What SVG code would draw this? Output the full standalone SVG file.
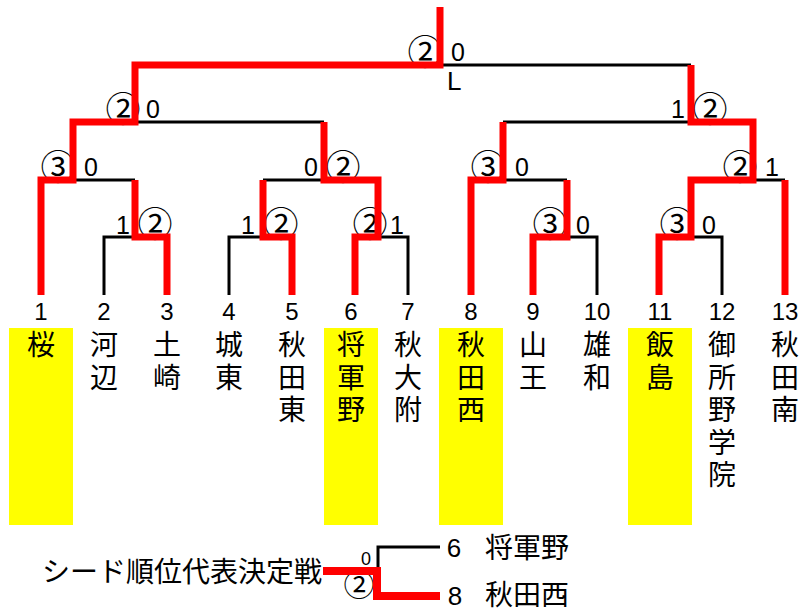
<svg xmlns="http://www.w3.org/2000/svg" width="801" height="612" viewBox="0 0 801 612">
<style>
.num{font-family:"Liberation Sans",Arial,sans-serif;font-size:24px;text-anchor:middle;fill:#000}
.jp{font-family:"Noto Sans CJK JP",sans-serif;font-size:28px;text-anchor:middle;fill:#000}
.sc{font-family:"Liberation Sans",Arial,sans-serif;font-size:25px;text-anchor:middle;fill:#000}
.ci{font-family:"Noto Sans CJK JP",sans-serif;font-size:35px;text-anchor:middle;fill:#000}
.hl{fill:#ffff00}
.w{fill:none;stroke:#ff0000;stroke-width:7;stroke-linejoin:miter}
.l{fill:none;stroke:#000;stroke-width:3}
</style>
<rect width="801" height="612" fill="#fff"/>
<g id="team1"><rect class="hl" x="9" y="328" width="64" height="197"/><text class="num" x="41" y="320">1</text><text class="jp" x="41" y="355">桜</text></g>
<g id="team2"><text class="num" x="104" y="320">2</text><text class="jp" x="104" y="355">河</text><text class="jp" x="104" y="387.5">辺</text></g>
<g id="team3"><text class="num" x="167" y="320">3</text><text class="jp" x="167" y="355">土</text><text class="jp" x="167" y="387.5">崎</text></g>
<g id="team4"><text class="num" x="229" y="320">4</text><text class="jp" x="229" y="355">城</text><text class="jp" x="229" y="387.5">東</text></g>
<g id="team5"><text class="num" x="292" y="320">5</text><text class="jp" x="292" y="355">秋</text><text class="jp" x="292" y="387.5">田</text><text class="jp" x="292" y="420">東</text></g>
<g id="team6"><rect class="hl" x="324" y="328" width="54" height="197"/><text class="num" x="351" y="320">6</text><text class="jp" x="351" y="355">将</text><text class="jp" x="351" y="387.5">軍</text><text class="jp" x="351" y="420">野</text></g>
<g id="team7"><text class="num" x="408" y="320">7</text><text class="jp" x="408" y="355">秋</text><text class="jp" x="408" y="387.5">大</text><text class="jp" x="408" y="420">附</text></g>
<g id="team8"><rect class="hl" x="439" y="328" width="64" height="197"/><text class="num" x="471" y="320">8</text><text class="jp" x="471" y="355">秋</text><text class="jp" x="471" y="387.5">田</text><text class="jp" x="471" y="420">西</text></g>
<g id="team9"><text class="num" x="533" y="320">9</text><text class="jp" x="533" y="355">山</text><text class="jp" x="533" y="387.5">王</text></g>
<g id="team10"><text class="num" x="597" y="320">10</text><text class="jp" x="597" y="355">雄</text><text class="jp" x="597" y="387.5">和</text></g>
<g id="team11"><rect class="hl" x="628" y="328" width="64" height="197"/><text class="num" x="660" y="320">11</text><text class="jp" x="660" y="355">飯</text><text class="jp" x="660" y="387.5">島</text></g>
<g id="team12"><text class="num" x="722" y="320">12</text><text class="jp" x="722" y="355">御</text><text class="jp" x="722" y="387.5">所</text><text class="jp" x="722" y="420">野</text><text class="jp" x="722" y="452.5">学</text><text class="jp" x="722" y="485">院</text></g>
<g id="team13"><text class="num" x="785" y="320">13</text><text class="jp" x="785" y="355">秋</text><text class="jp" x="785" y="387.5">田</text><text class="jp" x="785" y="420">南</text></g>
<g id="scores">
<text class="ci" x="425" y="65">②</text><text class="sc" x="458" y="61">0</text>
<text class="sc" x="447" y="90" style="text-anchor:start;font-size:26px">L</text>
<text class="ci" x="123" y="122">②</text><text class="sc" x="153" y="118">0</text>
<text class="sc" x="678" y="118">1</text><text class="ci" x="710" y="122">②</text>
<text class="ci" x="58" y="180">③</text><text class="sc" x="91" y="176">0</text>
<text class="sc" x="311" y="176">0</text><text class="ci" x="343" y="180">②</text>
<text class="ci" x="488" y="180">③</text><text class="sc" x="522" y="176">0</text>
<text class="ci" x="740" y="180">②</text><text class="sc" x="772" y="176">1</text>
<text class="sc" x="123" y="234">1</text><text class="ci" x="155" y="237">②</text>
<text class="sc" x="248" y="234">1</text><text class="ci" x="281" y="237">②</text>
<text class="ci" x="370" y="237">②</text><text class="sc" x="397" y="234">1</text>
<text class="ci" x="550" y="237">③</text><text class="sc" x="583" y="234">0</text>
<text class="ci" x="677" y="237">③</text><text class="sc" x="709" y="234">0</text>
</g>
<g id="playoff">
<text class="jp" x="42" y="582" style="text-anchor:start">シード順位代表決定戦</text>
<text class="sc" x="366" y="565" style="font-size:18px">0</text>
<text class="ci" x="359" y="596" style="font-size:31px">②</text>
<text class="sc" x="454" y="557" style="font-size:26px">6</text>
<text class="jp" x="485" y="558" style="text-anchor:start">将軍野</text>
<text class="sc" x="455" y="605" style="font-size:26px">8</text>
<text class="jp" x="485" y="605" style="text-anchor:start">秋田西</text>
</g>
<g id="connectors">
<path class="l" d="M104 295V237H135M229 295V237H263M378 237H408V295M567 237H597V295M691 237H722V295M73 180H135M263 180H324M503 180H567M753 180H785M135 122H324M503 122H691M440 65H691M378 571V547H440"/>
<path class="w" d="M41 295V180H73V122H135V65H440V7"/>
<path class="w" d="M135 180V237H167V295"/>
<path class="w" d="M263 180V237H292V295"/>
<path class="w" d="M355 295V237H378V180H324V122"/>
<path class="w" d="M471 295V180H503V122"/>
<path class="w" d="M533 295V237H567V180"/>
<path class="w" d="M659 295V237H691V180H753V122H691V65"/>
<path class="w" d="M785 180V295"/>
<path class="w" style="stroke-width:8" d="M323 571H377V596H440"/>
</g>
</svg>
